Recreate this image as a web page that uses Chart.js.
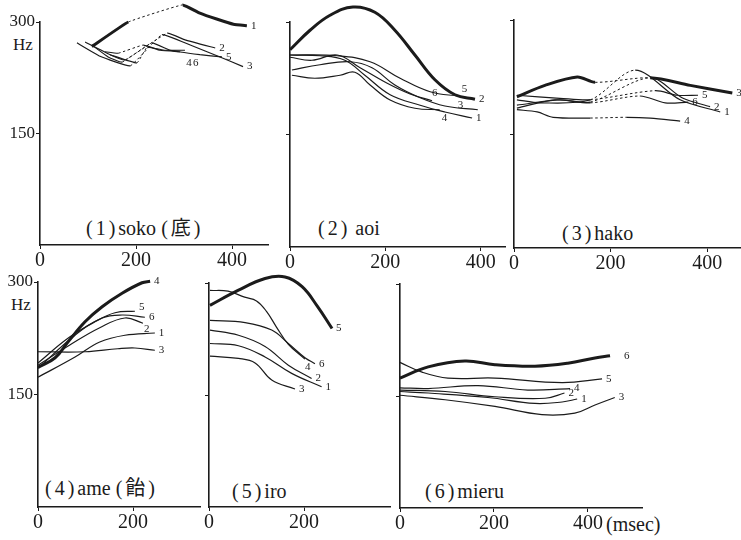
<!DOCTYPE html>
<html>
<head>
<meta charset="utf-8">
<script src="https://cdn.jsdelivr.net/npm/chart.js@4.4.0/dist/chart.umd.min.js"></script>
<style>
  body { margin: 0; background: #fff; }
  #wrap { position: relative; width: 741px; height: 540px; overflow: hidden; background: #fff;
          font-family: "Liberation Serif", "DejaVu Serif", "Noto Sans CJK JP", serif; color: #1b1b1b; }
  #wrap canvas { position: absolute; }
  .t { position: absolute; white-space: nowrap; line-height: 1; }
  .title { font-size: 20px; }
  .title i { font-style: normal; letter-spacing: 3px; }
  .ax { font-size: 17px; }
</style>
</head>
<body>
<div id="wrap">
  <div class="t ax" style="left:13px;top:36px">Hz</div>
  <div class="t ax" style="left:11px;top:296px">Hz</div>
  <div class="t title" style="left:86px;top:218px"><i>(1)</i>soko <i>(底)</i></div>
  <div class="t title" style="left:318px;top:218px"><i>(2)</i>&nbsp;aoi</div>
  <div class="t title" style="left:562px;top:223px"><i>(3)</i>hako</div>
  <div class="t title" style="left:45px;top:478px"><i>(4)</i>ame <i>(飴)</i></div>
  <div class="t title" style="left:232px;top:481px"><i>(5)</i>iro</div>
  <div class="t title" style="left:425px;top:481px"><i>(6)</i>mieru</div>
  <div class="t" style="left:606px;top:514px;font-size:20px">(msec)</div>
</div>
<script>
const ink = '#1b1b1b';
const serif = '"Liberation Serif", "DejaVu Serif", serif';
const seriesNames = ['1', '2', '3', '4', '5', '6'];
const xTicks = [0, 200, 400];
const yTicks = [150, 300];

// F0 contours, [msec, Hz], speakers 1..6 per word
const soko = [
  [[108, 267], [184, 300], [297, 323], [333, 312], [368, 304], [403, 297], [431, 295]],
  [[94, 273], [146, 256], [177, 249], [265, 285], [302, 276], [365, 265]],
  [[77, 272], [125, 254], [188, 241], [254, 283], [313, 269], [375, 253], [423, 240]],
  [[135, 260], [163, 258], [215, 269], [250, 262], [292, 260]],
  [[108, 269], [142, 253], [171, 246], [233, 272], [271, 262], [333, 256], [379, 253]],
  [[146, 256], [202, 245], [223, 266], [260, 262], [302, 262]]
];
const sokoDashed = [[1], [2], [2], [1], [2], [1]];

const aoi = [
  [[0, 256], [63, 255], [115, 249], [157, 229], [210, 203], [273, 189], [325, 180], [382, 172]],
  [[0, 263], [42, 289], [84, 309], [132, 320], [178, 313], [220, 289], [262, 256], [304, 223], [346, 203], [388, 197]],
  [[4, 236], [63, 243], [126, 247], [172, 239], [220, 216], [273, 199], [325, 188], [394, 183]],
  [[4, 229], [52, 225], [105, 229], [136, 233], [168, 216], [210, 196], [262, 185], [314, 183]],
  [[0, 256], [99, 255], [168, 247], [231, 225], [294, 207], [356, 201]],
  [[0, 253], [46, 249], [99, 256], [147, 239], [199, 220], [252, 204], [298, 195]]
];

const hako = [
  [[6, 195], [54, 191], [158, 195], [251, 234], [344, 195], [427, 179]],
  [[6, 188], [95, 195], [158, 192], [282, 224], [350, 197], [406, 186]],
  [[6, 199], [64, 214], [131, 225], [168, 218], [282, 224], [365, 214], [452, 204]],
  [[6, 182], [48, 179], [81, 172], [158, 171], [234, 172], [282, 171], [344, 167]],
  [[6, 201], [95, 197], [158, 195], [292, 207], [338, 201], [381, 201]],
  [[6, 184], [85, 195], [158, 191], [261, 200], [313, 191], [361, 192]]
];
const hakoDashed = [[2], [2], [3], [3], [2], [2]];

const ame = [
  [[0, 173], [78, 200], [130, 220], [183, 229], [246, 232]],
  [[0, 189], [67, 216], [130, 239], [183, 252], [221, 245]],
  [[0, 207], [99, 207], [168, 211], [204, 212], [246, 209]],
  [[0, 186], [36, 199], [63, 220], [99, 247], [135, 267], [177, 285], [219, 299], [236, 301]],
  [[0, 192], [63, 225], [120, 247], [162, 259], [204, 261]],
  [[0, 185], [78, 229], [135, 252], [177, 256], [225, 253]]
];

const iro = [
  [[2, 219], [62, 216], [118, 201], [174, 179], [237, 161]],
  [[2, 237], [62, 230], [118, 215], [167, 190], [216, 172]],
  [[2, 202], [62, 199], [97, 193], [132, 170], [181, 158]],
  [[2, 290], [40, 289], [75, 281], [100, 276], [121, 262], [142, 241], [167, 218], [202, 198]],
  [[2, 270], [61, 290], [118, 306], [160, 308], [196, 295], [229, 268], [259, 239]],
  [[2, 250], [76, 247], [132, 237], [167, 219], [202, 200], [223, 192]]
];

const mieru = [
  [[0, 156], [60, 154], [187, 148], [287, 140], [345, 142], [377, 146]],
  [[0, 158], [96, 156], [202, 149], [309, 147], [350, 154]],
  [[0, 151], [96, 145], [202, 136], [302, 125], [372, 127], [415, 138], [457, 148]],
  [[0, 161], [60, 160], [166, 164], [272, 158], [362, 160]],
  [[0, 195], [47, 182], [102, 174], [202, 174], [345, 168], [430, 173]],
  [[0, 174], [60, 189], [138, 197], [202, 192], [287, 190], [357, 194], [415, 201], [447, 204]]
];

const AW = 40;  // y axis box width
const AH = 32;  // x axis box height

const endLabels = {
  id: 'endLabels',
  afterDatasetsDraw(chart, args, opts) {
    const ctx = chart.ctx;
    ctx.save();
    ctx.font = '11px ' + serif;
    ctx.fillStyle = ink;
    ctx.textBaseline = 'middle';
    chart.data.datasets.forEach((ds, i) => {
      const pts = chart.getDatasetMeta(i).data;
      const last = pts[pts.length - 1];
      const n = (opts.nudge || {})[ds.label] || [0, 0];
      ctx.fillText(ds.label, last.x + 4 + n[0], last.y + n[1]);
    });
    ctx.restore();
  }
};
Chart.register(endLabels);

const wrap = document.getElementById('wrap');

function makePanel(p) {
  const cv = document.createElement('canvas');
  cv.width = p.cr - p.cl + AW + p.pr;
  cv.height = p.cb - p.ct + p.pt + AH;
  cv.style.left = (p.cl - AW) + 'px';
  cv.style.top = (p.ct - p.pt) + 'px';
  wrap.appendChild(cv);

  const datasets = p.curves.map((pts, i) => {
    const dash = p.dashed ? p.dashed[i] : [];
    return {
      label: seriesNames[i],
      data: pts.map(([x, y]) => ({ x, y })),
      borderColor: ink,
      borderWidth: i === p.bold ? 3 : 1.2,
      pointRadius: 0,
      tension: p.tension,
      clip: false,
      segment: {
        borderDash: c => dash.includes(c.p0DataIndex) ? [2.5, 2.5] : undefined,
        borderWidth: c => dash.includes(c.p0DataIndex) ? 1 : undefined
      }
    };
  });

  new Chart(cv, {
    type: 'line',
    data: { datasets },
    options: {
      responsive: false,
      animation: false,
      devicePixelRatio: 1,
      layout: { padding: { top: p.pt, right: p.pr, left: 0, bottom: 0 } },
      plugins: {
        legend: { display: false },
        tooltip: { enabled: false },
        endLabels: { nudge: p.nudge }
      },
      scales: {
        x: {
          type: 'linear', min: 0, max: p.xmax,
          afterBuildTicks: s => { s.ticks = xTicks.filter(v => v <= p.xmax).map(v => ({ value: v })); },
          afterFit: s => { s.height = AH; },
          grid: { drawOnChartArea: false, tickLength: 4, color: ink },
          border: { color: ink, width: 1.6 },
          ticks: { color: ink, font: { family: serif, size: 20 }, padding: 0, maxRotation: 0, autoSkip: false }
        },
        y: {
          min: 0, max: 300,
          afterBuildTicks: s => { s.ticks = yTicks.map(v => ({ value: v })); },
          afterFit: s => { s.width = AW; },
          grid: { drawOnChartArea: false, tickLength: 4, color: ink },
          border: { color: ink, width: 1.6 },
          ticks: { color: ink, font: { family: serif, size: 17 }, padding: 1,
                   callback: v => p.yLabels ? String(v) : '' }
        }
      }
    }
  });
}

makePanel({ curves: soko, dashed: sokoDashed, bold: 0, yLabels: true, tension: 0.1,
  cl: 40, ct: 22, cb: 245, cr: 268, xmax: 475, pt: 22, pr: 4,
  nudge: { '4': [2, 11], '6': [4, 13] } });
makePanel({ curves: aoi, bold: 1, tension: 0.4,
  cl: 290, ct: 22, cb: 247, cr: 505, xmax: 451, pt: 22, pr: 4,
  nudge: { '5': [-2, -7], '6': [-4, -8], '4': [-2, 8], '3': [-24, -5] } });
makePanel({ curves: hako, dashed: hakoDashed, bold: 2, tension: 0.3,
  cl: 514, ct: 20, cb: 248, cr: 741, xmax: 470, pt: 20, pr: 0 });
makePanel({ curves: ame, bold: 3, yLabels: true, tension: 0.4,
  cl: 38, ct: 282, cb: 507, cr: 200, xmax: 341, pt: 25, pr: 4,
  nudge: { '5': [0, -4], '2': [-3, 6] } });
makePanel({ curves: iro, bold: 4, tension: 0.4,
  cl: 209, ct: 283, cb: 507, cr: 390, xmax: 381, pt: 25, pr: 4,
  nudge: { '4': [-4, 8] } });
makePanel({ curves: mieru, bold: 5, tension: 0.4,
  cl: 400, ct: 284, cb: 508, cr: 642, xmax: 515, pt: 25, pr: 4,
  nudge: { '6': [10, 0] } });
</script>
</body>
</html>
